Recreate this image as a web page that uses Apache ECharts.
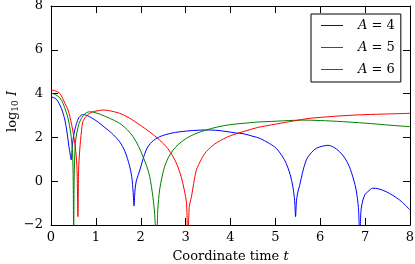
<!DOCTYPE html>
<html>
<head>
<meta charset="utf-8">
<script src="https://cdn.jsdelivr.net/npm/echarts@6/dist/echarts.min.js"></script>
<style>
html,body{margin:0;padding:0;background:#fff;}
#chart{width:415px;height:264px;}
</style>
</head>
<body>
<div id="chart"></div>
<script>
const seriesNames = ['A = 4', 'A = 5', 'A = 6'];
const xTicks = [0, 1, 2, 3, 4, 5, 6, 7, 8];
const yTicks = [-2, 0, 2, 4, 6, 8];

const tA4 = [0, 0.12, 0.23, 0.31, 0.36, 0.40, 0.43, 0.45, 0.47, 0.49, 0.53, 0.57, 0.62, 0.68, 0.72, 0.80, 0.90, 1.05, 1.20, 1.35, 1.53, 1.65, 1.75, 1.80, 1.83, 1.85, 1.87, 1.90, 1.98, 2.12, 2.25, 2.42, 2.70, 3.02, 3.30, 3.53, 3.80, 4.13, 4.28, 4.50, 4.65, 4.87, 5.02, 5.15, 5.24, 5.33, 5.39, 5.43, 5.45, 5.47, 5.50, 5.54, 5.60, 5.69, 5.80, 5.91, 6.05, 6.17, 6.30, 6.43, 6.55, 6.65, 6.74, 6.80, 6.85, 6.88, 6.91, 6.95, 7.00, 7.06, 7.17, 7.30, 7.47, 7.62, 7.77, 7.90, 8.00];
const logA4 = [3.86, 3.74, 3.33, 2.79, 2.19, 1.58, 1.20, 0.97, 1.45, 1.88, 2.35, 2.64, 2.90, 3.02, 3.05, 3.00, 2.90, 2.70, 2.45, 2.20, 1.80, 1.35, 0.70, 0.20, -0.50, -1.13, -0.45, 0.00, 0.51, 1.42, 1.80, 2.03, 2.20, 2.29, 2.33, 2.34, 2.30, 2.20, 2.17, 2.05, 1.96, 1.72, 1.50, 1.15, 0.82, 0.30, -0.25, -0.90, -1.62, -0.90, -0.50, -0.20, 0.35, 0.97, 1.30, 1.50, 1.60, 1.64, 1.55, 1.35, 1.05, 0.66, 0.10, -0.40, -1.20, -2.50, -1.30, -0.86, -0.60, -0.48, -0.32, -0.35, -0.48, -0.65, -0.86, -1.10, -1.32];

const tA5 = [0, 0.10, 0.20, 0.27, 0.33, 0.38, 0.44, 0.48, 0.495, 0.505, 0.515, 0.53, 0.55, 0.60, 0.64, 0.72, 0.79, 0.86, 0.95, 1.10, 1.30, 1.53, 1.70, 1.83, 1.95, 2.05, 2.13, 2.20, 2.27, 2.31, 2.35, 2.38, 2.42, 2.47, 2.53, 2.62, 2.72, 2.85, 3.02, 3.20, 3.46, 3.70, 3.98, 4.28, 4.60, 5.02, 5.30, 5.61, 6.00, 6.50, 7.00, 7.25, 7.60, 8.00];
const logA5 = [4.03, 3.95, 3.80, 3.55, 3.20, 2.87, 2.19, 1.30, 0.00, -3.00, 0.00, 1.20, 1.88, 2.45, 2.72, 3.00, 3.13, 3.17, 3.15, 3.05, 2.88, 2.64, 2.35, 2.03, 1.60, 1.12, 0.70, 0.21, -0.71, -1.50, -3.00, -1.30, -0.40, 0.15, 0.66, 1.10, 1.42, 1.70, 1.96, 2.15, 2.34, 2.47, 2.58, 2.64, 2.70, 2.74, 2.77, 2.79, 2.77, 2.72, 2.65, 2.61, 2.55, 2.49];

const tA6 = [0, 0.10, 0.20, 0.31, 0.37, 0.42, 0.49, 0.55, 0.58, 0.60, 0.615, 0.64, 0.68, 0.71, 0.78, 0.86, 0.95, 1.05, 1.16, 1.30, 1.53, 1.75, 1.98, 2.20, 2.42, 2.60, 2.72, 2.82, 2.90, 2.97, 3.02, 3.05, 3.08, 3.13, 3.18, 3.24, 3.35, 3.46, 3.65, 3.91, 4.10, 4.28, 4.60, 5.02, 5.40, 5.76, 6.10, 6.50, 7.00, 7.50, 8.00];
const logA6 = [4.17, 4.12, 4.00, 3.56, 3.30, 2.95, 2.26, 1.42, 0.50, -1.62, 0.50, 1.42, 2.30, 2.72, 2.95, 3.10, 3.18, 3.22, 3.25, 3.22, 3.10, 2.88, 2.57, 2.25, 1.88, 1.50, 1.12, 0.70, 0.21, -0.40, -1.01, -3.00, -1.20, -0.71, -0.10, 0.51, 1.00, 1.35, 1.70, 2.00, 2.15, 2.26, 2.45, 2.61, 2.75, 2.87, 2.93, 2.99, 3.04, 3.07, 3.10];

const colors = ['#0000ff', '#008000', '#ff0000'];
const tSets = [tA4, tA5, tA6];
const vSets = [logA4, logA5, logA6];

const FONT = 'DejaVu Serif';
const minus = v => String(v).replace('-', '\u2212');

const chart = echarts.init(document.getElementById('chart'), null, {renderer: 'canvas'});

const axisCommon = {
  axisLine: {show: true, onZero: false, lineStyle: {color: '#000', width: 1}},
  axisTick: {show: true, inside: true, length: 7, lineStyle: {color: '#000', width: 1}},
  splitLine: {show: false}
};

const option = {
  animation: false,
  backgroundColor: '#fff',
  color: colors,
  grid: {left: 51, right: 5, top: 6, bottom: 39, containLabel: false, outerBoundsMode: 'none'},
  legend: {
    data: seriesNames,
    orient: 'vertical',
    left: 311, top: 14,
    backgroundColor: '#fff',
    borderColor: '#000', borderWidth: 1, borderRadius: 0,
    padding: [5, 6, 6, 10],
    icon: 'rect',
    itemWidth: 22, itemHeight: 1, itemGap: 9,
    itemStyle: {borderWidth: 0},
    formatter: name => '{it|A} = ' + name.split('= ')[1],
    textStyle: {
      fontFamily: FONT, fontSize: 13, color: '#000', padding: [0, 0, 0, 10],
      rich: {it: {fontFamily: FONT, fontStyle: 'italic', fontSize: 13, color: '#000'}}
    }
  },
  xAxis: [
    Object.assign({
      type: 'value', min: xTicks[0], max: xTicks[xTicks.length - 1], interval: 1, position: 'bottom',
      name: 'Coordinate time {it|t}', nameLocation: 'middle', nameGap: 25, nameMoveOverlap: false,
      nameTextStyle: {fontFamily: FONT, fontSize: 13, color: '#000',
        rich: {it: {fontFamily: FONT, fontStyle: 'italic', fontSize: 13, color: '#000'}}},
      axisLabel: {fontFamily: FONT, fontSize: 13, color: '#000', margin: 6, formatter: minus}
    }, axisCommon),
    Object.assign({
      type: 'value', min: xTicks[0], max: xTicks[xTicks.length - 1], interval: 1, position: 'top',
      axisLabel: {show: false}
    }, axisCommon)
  ],
  yAxis: [
    Object.assign({
      type: 'value', min: yTicks[0], max: yTicks[yTicks.length - 1], interval: 2, position: 'left',
      name: 'log{sub|10} {it|I}', nameLocation: 'middle', nameGap: 31, nameRotate: 90, nameMoveOverlap: false,
      nameTextStyle: {fontFamily: FONT, fontSize: 13, color: '#000', padding: [0, 0, 0, 8],
        rich: {
          sub: {fontFamily: FONT, fontSize: 9, color: '#000', verticalAlign: 'bottom', padding: [5, 0, 0, 0]},
          it: {fontFamily: FONT, fontStyle: 'italic', fontSize: 13, color: '#000'}
        }},
      axisLabel: {fontFamily: FONT, fontSize: 13, color: '#000', margin: 8, formatter: minus}
    }, axisCommon),
    Object.assign({
      type: 'value', min: yTicks[0], max: yTicks[yTicks.length - 1], interval: 2, position: 'right',
      axisLabel: {show: false}
    }, axisCommon)
  ],
  series: seriesNames.map((n, i) => ({
    name: n,
    type: 'line',
    xAxisIndex: 0, yAxisIndex: 0,
    data: tSets[i].map((t, j) => [t, vSets[i][j]]),
    showSymbol: false, symbol: 'none',
    smooth: 0.3,
    clip: true,
    lineStyle: {color: colors[i], width: 1},
    itemStyle: {color: colors[i]}
  }))
};
chart.setOption(option);
</script>
</body>
</html>
